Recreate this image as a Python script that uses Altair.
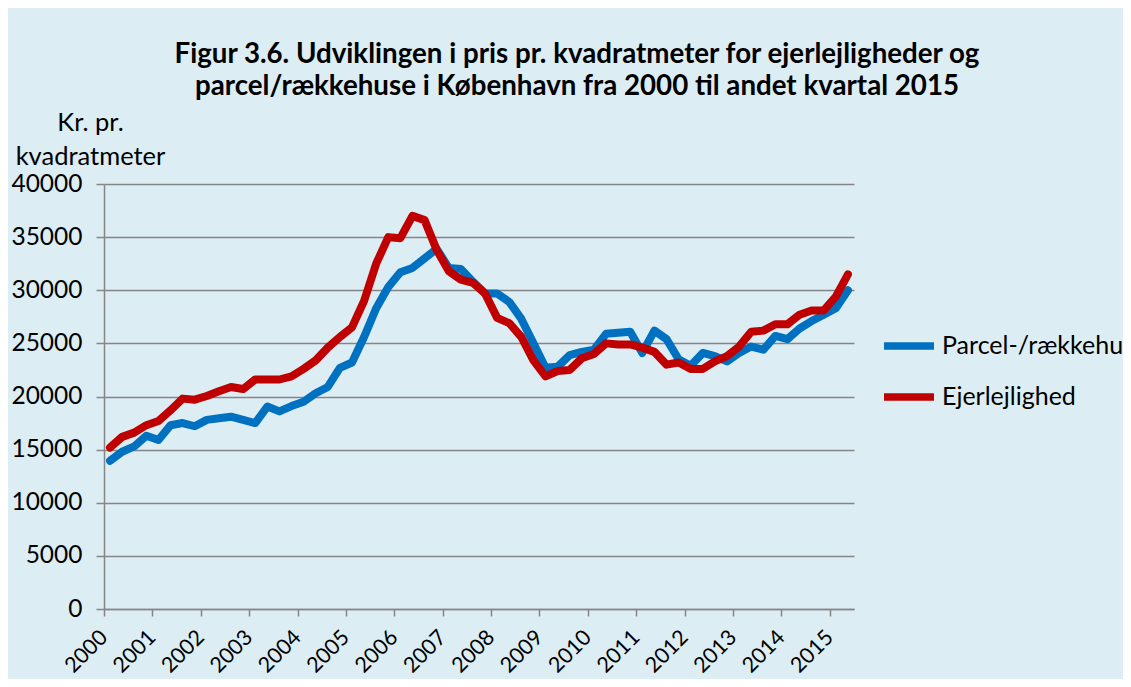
import altair as alt
import pandas as pd

years = list(range(2000, 2016))
quarters = [(y, q) for y in years for q in (1, 2, 3, 4)][:62]

series_names = ["Parcel-/rækkehuse", "Ejerlejlighed"]

parcel = [13950, 14800, 15300, 16300, 15900, 17300, 17500, 17200,
          17800, 17950, 18100, 17800, 17500, 19050, 18600, 19100,
          19500, 20300, 20900, 22700, 23200, 25600, 28300, 30300,
          31700, 32100, 33000, 33900, 32100, 32000, 30800, 29700,
          29700, 28900, 27300, 25000, 22700, 22800, 23900, 24200,
          24400, 25900, 26000, 26100, 24100, 26200, 25400, 23500,
          22900, 24100, 23800, 23300, 24100, 24700, 24400, 25700,
          25400, 26400, 27100, 27700, 28300, 30000]

ejer = [15200, 16200, 16600, 17300, 17700, 18700, 19800, 19700,
        20050, 20500, 20900, 20700, 21600, 21600, 21600, 21900,
        22600, 23400, 24600, 25600, 26500, 29000, 32500, 35000,
        34900, 37000, 36600, 33800, 31800, 31000, 30700, 29700,
        27400, 26900, 25600, 23400, 21900, 22400, 22500, 23600,
        24000, 25000, 24900, 24900, 24600, 24200, 23000, 23200,
        22600, 22600, 23300, 23800, 24700, 26100, 26200, 26800,
        26800, 27700, 28100, 28100, 29400, 31500]

title_lines = ["Figur 3.6. Udviklingen i pris pr. kvadratmeter for ejerlejligheder og",
               "parcel/rækkehuse i København fra 2000 til andet kvartal 2015"]
y_title = ["Kr. pr.", "kvadratmeter"]
y_ticks = list(range(0, 40001, 5000))

rows = []
for name, vals in zip(series_names, [parcel, ejer]):
    for (y, q), v in zip(quarters, vals):
        rows.append({"serie": name, "t": y + (q - 0.5) / 4, "v": v})
df = pd.DataFrame(rows)

FONT = "Lato"
GRAY = "#868686"

color = alt.Color(
    "serie:N",
    scale=alt.Scale(domain=series_names, range=["#0070C0", "#C00000"]),
    legend=alt.Legend(
        title=None, orient="none", legendX=776, legendY=133,
        symbolType="stroke", symbolSize=2500, symbolStrokeWidth=7.5,
        labelFontSize=25, labelFont=FONT, labelColor="black", labelLimit=400,
        labelOffset=4, rowPadding=7,
    ),
)

x = alt.X(
    "t:Q",
    scale=alt.Scale(domain=[2000, 2015.5], nice=False, zero=False),
    axis=alt.Axis(
        values=years, format="d", labelAngle=-45, grid=False, labelOverlap=False,
        tickSize=7, tickColor=GRAY, tickWidth=1.5, domainColor=GRAY, domainWidth=1.5,
        labelFontSize=21.5, labelFont=FONT, labelColor="black", labelPadding=18,
        labelAlign="right", labelBaseline="middle",
        title=None,
    ),
)
y = alt.Y(
    "v:Q",
    scale=alt.Scale(domain=[0, 40000], nice=False),
    axis=alt.Axis(
        values=y_ticks, format="d", grid=True, gridColor=GRAY, gridWidth=1.5,
        tickSize=8, tickColor=GRAY, tickWidth=1.5, domainColor=GRAY, domainWidth=1.5,
        labelFontSize=24.5, labelFont=FONT, labelColor="black", labelPadding=14,
        title=y_title, titleAngle=0, titleX=-14, titleY=-54, titleAlign="center",
        titleBaseline="alphabetic", titleFont=FONT, titleFontSize=25.5,
        titleFontWeight="normal", titleColor="black", titleLineHeight=34,
    ),
)

line = dict(strokeWidth=8, strokeJoin="round", strokeCap="round")
blue = alt.Chart(df).transform_filter(alt.datum.serie == series_names[0]).mark_line(**line).encode(x=x, y=y, color=color)
red = alt.Chart(df).transform_filter(alt.datum.serie == series_names[1]).mark_line(**line).encode(x=x, y=y, color=color)

chart = alt.layer(blue, red).properties(
    width=750, height=425,
    title=alt.TitleParams(
        text=title_lines, font=FONT, fontSize=27.7, fontWeight="bold", color="black",
        anchor="middle", dx=98, offset=9, lineHeight=32,
    ),
    autosize=alt.AutoSizeParams(type="none"),
    padding={"left": 96, "top": 176, "right": 269, "bottom": 70},
    background="#DCEDF3",
).configure_view(stroke="transparent")

chart.save("out.html", embed_options={"renderer": "svg", "actions": False})
